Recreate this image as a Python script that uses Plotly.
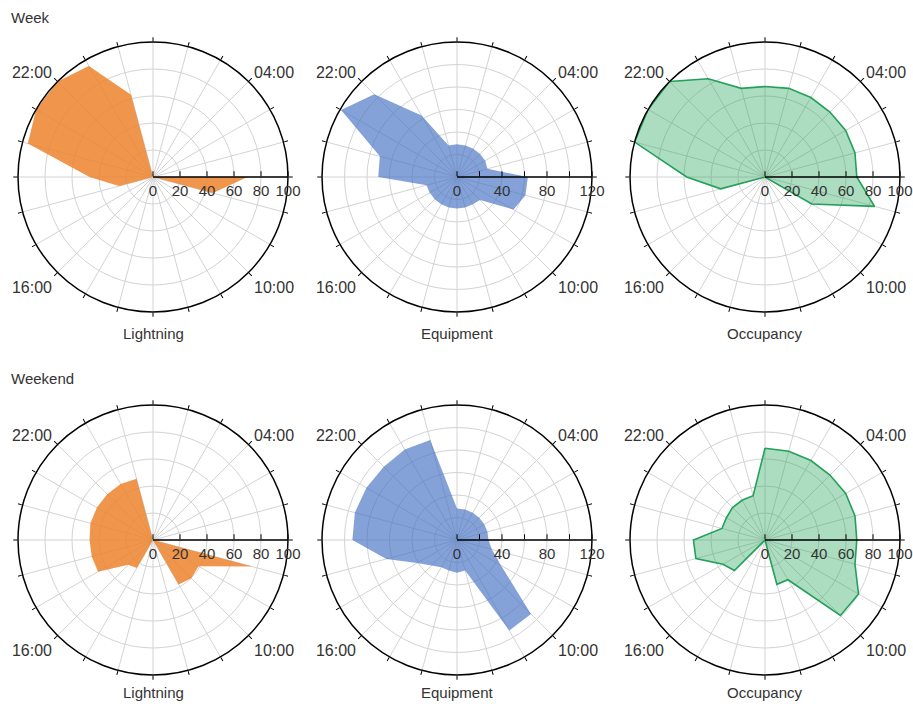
import plotly.graph_objects as go

# ---------------- data (hour 1..24) ----------------
hours = list(range(1, 25))  # 01:00 ... 24:00 (24:00 = 00:00)
hour_labels = {4: "04:00", 10: "10:00", 16: "16:00", 22: "22:00"}

week_lightning = [0, 0, 0, 0, 0, 0, 70, 46, 0, 0, 0, 0, 0, 0, 0, 0, 0, 26, 47, 96, 100, 100, 95, 63]
week_equipment = [29, 29, 29, 29, 29, 28, 63, 63, 58, 29, 28, 28, 28, 28, 28, 28, 28, 28, 70, 71, 119, 104, 63, 29]
week_occupancy = [67, 68, 68, 68, 69, 69, 68, 84, 40, 0, 0, 0, 0, 0, 0, 0, 0, 34, 58, 100, 100, 100, 84, 68]

weekend_lightning = [0, 0, 0, 0, 0, 0, 0, 76, 39, 40, 38, 0, 0, 0, 24, 26, 47, 47, 47, 48, 48, 48, 48, 47]
weekend_equipment = [28, 28, 28, 28, 28, 28, 28, 32, 45, 93, 93, 28, 29, 28, 28, 32, 41, 65, 93, 94, 93, 92, 93, 92]
weekend_occupancy = [68, 68, 68, 68, 69, 69, 68, 69, 80, 79, 34, 34, 0, 0, 0, 32, 36, 53, 53, 33, 33, 34, 34, 34]

panel_titles = ["Lightning", "Equipment", "Occupancy"]
row_titles = ["Week", "Weekend"]
radial_max = [100, 120, 100]
label_step = [20, 40, 20]

# ---------------- styling ----------------
W, H = 913, 704
FONT = "Arial, Liberation Sans, sans-serif"
TXT = "#333333"
GRID = "#d3d3d3"
centers_x = [153, 457, 765]
centers_y = [177, 540]
title_y = [333, 692]
row_title_y = [17, 378]
R = 135

styles = [
    dict(fillcolor="rgba(237,130,45,0.85)", line=dict(color="rgba(237,130,45,0.0)", width=0)),
    dict(fillcolor="rgba(68,114,196,0.66)", line=dict(color="rgba(68,114,196,0.0)", width=0)),
    dict(fillcolor="rgba(40,165,90,0.38)", line=dict(color="#23a059", width=1.6)),
]

theta = [(h - 1) * 15 for h in hours]
ang_text = [hour_labels.get(h, "") for h in hours]

data_rows = [
    [week_lightning, week_equipment, week_occupancy],
    [weekend_lightning, weekend_equipment, weekend_occupancy],
]

fig = go.Figure()
layout_polars = {}
annotations = []
idx = 0
for r_i in range(2):
    for c_i in range(3):
        idx += 1
        name = "polar" if idx == 1 else f"polar{idx}"
        vals = data_rows[r_i][c_i]
        st = styles[c_i]
        fig.add_trace(go.Scatterpolar(
            r=vals + [vals[0]], theta=theta + [theta[0]],
            mode="lines", fill="toself", fillcolor=st["fillcolor"],
            line=st["line"], subplot=name, showlegend=False, hoverinfo="skip",
        ))
        cx, cy = centers_x[c_i], centers_y[r_i]
        rmax = radial_max[c_i]
        rt = list(range(0, rmax + 1, 20))
        rtext = [str(v) if v % label_step[c_i] == 0 else "" for v in rt]
        layout_polars[name] = dict(
            domain=dict(x=[(cx - R) / W, (cx + R) / W],
                        y=[1 - (cy + R) / H, 1 - (cy - R) / H]),
            bgcolor="white",
            radialaxis=dict(
                range=[0, rmax], tickmode="array", tickvals=rt, ticktext=rtext,
                showline=True, linecolor="black", linewidth=1.5,
                ticks="inside", ticklen=5, tickcolor="black", tickwidth=1,
                gridcolor=GRID, gridwidth=1, angle=0, tickangle=0,
                side="clockwise", layer="above traces",
                tickfont=dict(family=FONT, size=15, color=TXT),
            ),
            angularaxis=dict(
                rotation=90, direction="clockwise", tickmode="array",
                tickvals=theta, ticktext=ang_text,
                showline=True, linecolor="black", linewidth=1.5,
                ticks="outside", ticklen=4, tickcolor="black", tickwidth=1,
                gridcolor=GRID, gridwidth=1, layer="above traces",
                tickfont=dict(family=FONT, size=16, color=TXT),
            ),
        )
        annotations.append(dict(
            text=panel_titles[c_i], x=cx / W, y=1 - title_y[r_i] / H,
            xref="paper", yref="paper", xanchor="center", yanchor="middle",
            showarrow=False, font=dict(family=FONT, size=15, color=TXT),
        ))

for r_i, t in enumerate(row_titles):
    annotations.append(dict(
        text=t, x=9 / W, y=1 - row_title_y[r_i] / H, xref="paper", yref="paper",
        xanchor="left", yanchor="middle", showarrow=False,
        font=dict(family=FONT, size=15, color=TXT),
    ))

fig.update_layout(
    width=W, height=H, margin=dict(l=0, r=0, t=0, b=0),
    paper_bgcolor="white", plot_bgcolor="white",
    annotations=annotations, **layout_polars,
)

fig.write_html(
    "out.html",
    config={"displayModeBar": False},
    post_script="document.body.style.margin='0';document.body.style.overflow='hidden';",
)
